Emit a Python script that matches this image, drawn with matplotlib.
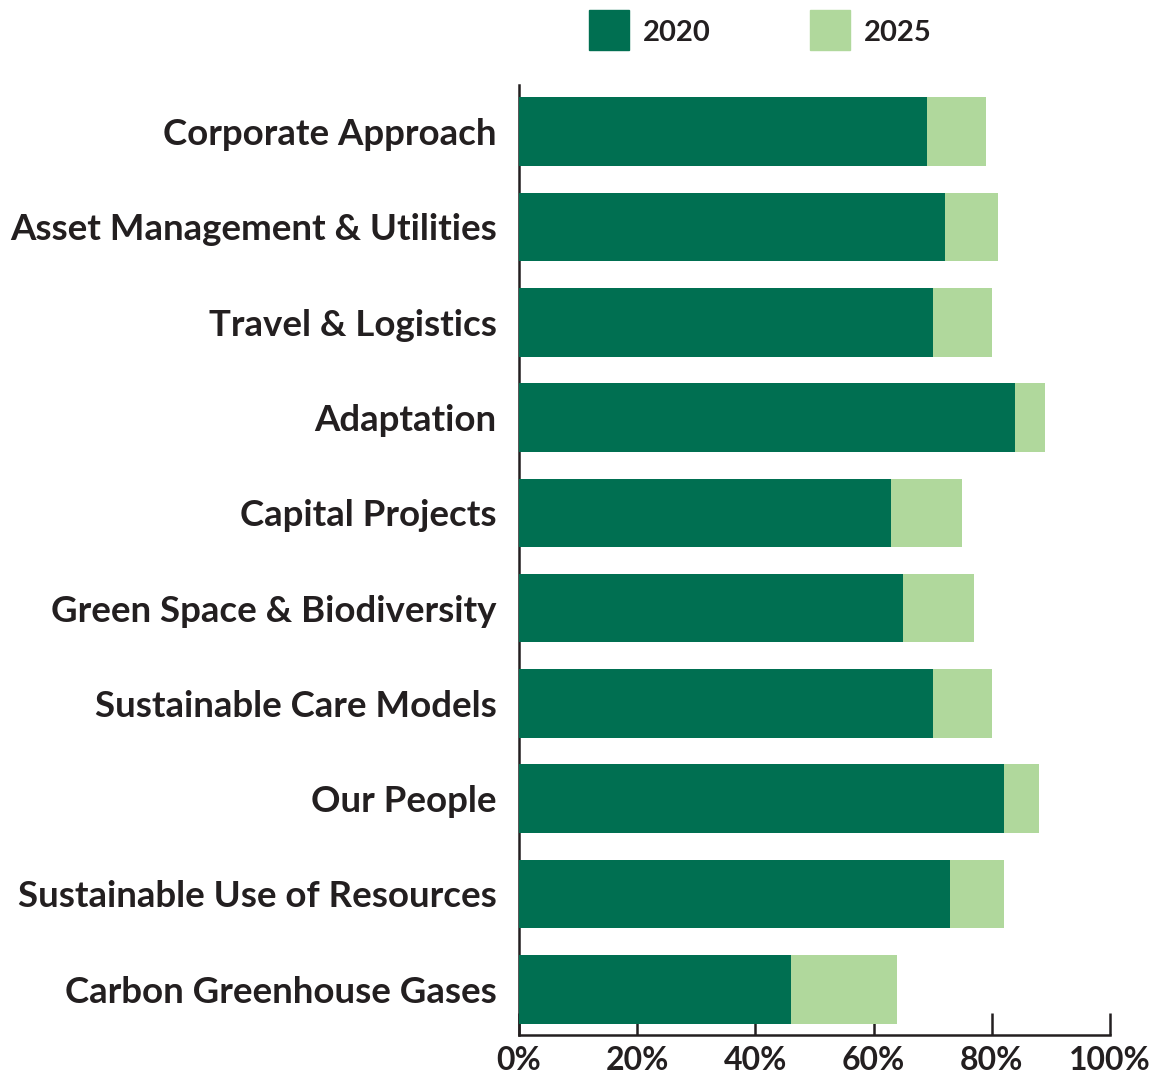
import matplotlib
matplotlib.use('Agg')
import matplotlib.pyplot as plt
from matplotlib.patches import Rectangle

categories = ['Corporate Approach', 'Asset Management & Utilities', 'Travel & Logistics',
              'Adaptation', 'Capital Projects', 'Green Space & Biodiversity',
              'Sustainable Care Models', 'Our People', 'Sustainable Use of Resources',
              'Carbon Greenhouse Gases']
v2020 = [69, 72, 70, 84, 63, 65, 70, 82, 73, 46]
v2025 = [79, 81, 80, 89, 75, 77, 80, 88, 82, 64]
xticks = [0, 20, 40, 60, 80, 100]

DARK = '#006f51'
LIGHT = '#b0d89c'
INK = '#231f20'

plt.rcParams['font.family'] = ['Lato', 'DejaVu Sans']
plt.rcParams['font.weight'] = 'bold'

fig = plt.figure(figsize=(11.6, 10.75), dpi=100)
ax = fig.add_axes([519 / 1160, 1 - 1035 / 1075, (1110 - 519) / 1160, (1035 - 85) / 1075])

y = list(range(len(categories)))
ax.barh(y, v2025, height=0.72, color=LIGHT, zorder=2)
ax.barh(y, v2020, height=0.72, color=DARK, zorder=3)

ax.set_xlim(0, 100)
ax.set_ylim(len(categories) - 0.52, -0.49)
ax.set_xticks(xticks)
ax.set_xticklabels([f'{t}%' for t in xticks], fontsize=23, fontweight='bold', color=INK)
ax.set_yticks(y)
ax.set_yticklabels(categories, fontsize=26.4, fontweight='bold', color=INK)

ax.tick_params(axis='x', direction='in', length=16, width=1.8, color=INK, pad=8)
ax.tick_params(axis='y', length=0, pad=16)
for s in ['top', 'right']:
    ax.spines[s].set_visible(False)
for s in ['left', 'bottom']:
    ax.spines[s].set_color(INK)
    ax.spines[s].set_linewidth(1.8)

# legend
for x0, lab, col in [(589, '2020', DARK), (810, '2025', LIGHT)]:
    fig.patches.append(Rectangle((x0 / 1160, 1 - 50 / 1075), 40 / 1160, 40 / 1075,
                                 transform=fig.transFigure, color=col))
    fig.text((x0 + 54) / 1160, 1 - 33 / 1075, lab, fontsize=21, fontweight='bold',
             color=INK, va='center', ha='left')

fig.savefig('out.png', dpi=100)
